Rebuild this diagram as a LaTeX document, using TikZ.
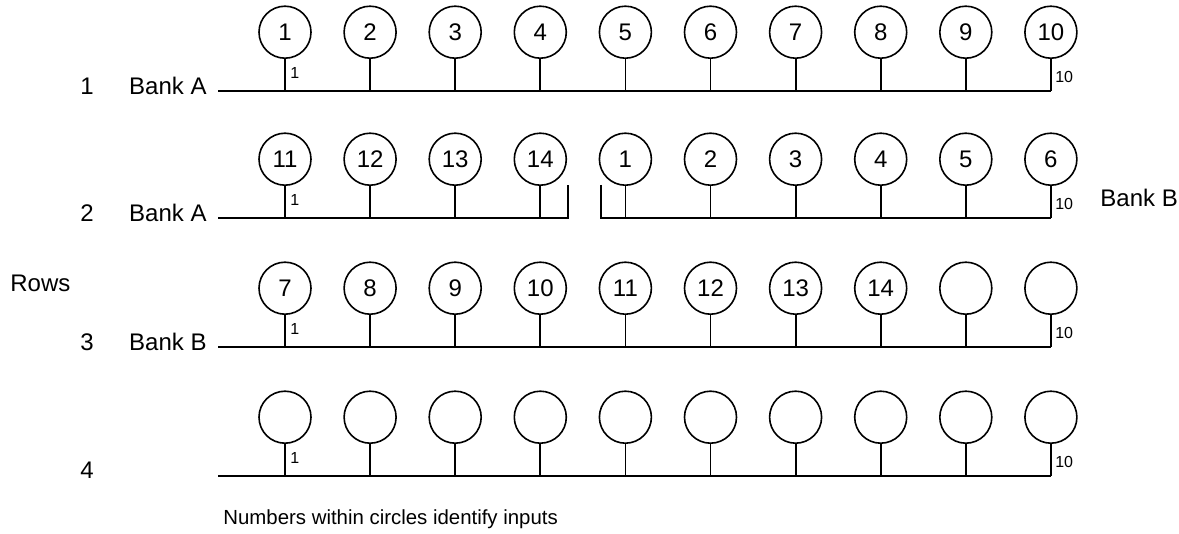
\documentclass[tikz,border=0pt]{standalone}
\usepackage{fontspec}
\setmainfont{Liberation Sans}
\usetikzlibrary{positioning,calc}

\begin{document}
\begin{tikzpicture}[
    x=0.5pt, y=-0.5pt,
    port/.style={circle, draw, line width=0.8pt, minimum size=26pt, inner sep=0pt, font=\fontsize{12}{14}\selectfont},
    wire/.style={line width=0.9pt},
    bank/.style={inner sep=0pt, font=\fontsize{12}{14}\selectfont},
    tag/.style={inner sep=0pt, font=\fontsize{8}{10}\selectfont},
    note/.style={inner sep=0pt, font=\fontsize{10.2}{12}\selectfont}
]
    \useasboundingbox (0,0) rectangle (1179,534);

    % row 1
    \foreach \t [count=\i] in {1,2,3,4,5,6,7,8,9,10} {
        \coordinate (r1a\i) at ({285+85.1*(\i-1)},91);
        \node[port, above=16pt of r1a\i] (r1p\i) {\t};
        \draw[wire] (r1p\i) -- (r1a\i);
    }
    \coordinate (r1s) at (218,91);
    \draw[wire] (r1s) -- (r1a10);
    \node[bank, anchor=base] (n1) at (87,95) {1};
    \node[bank, anchor=base east] (k1) at (207,95) {Bank A};
    \node[tag, above right=6pt and 2.5pt of r1a1] (t1a) {1};
    \node[tag, above right=4pt and 2pt of r1a10] (t1b) {10};

    % row 2
    \foreach \t [count=\i] in {11,12,13,14,1,2,3,4,5,6} {
        \coordinate (r2a\i) at ({285+85.1*(\i-1)},218);
        \node[port, above=16pt of r2a\i] (r2p\i) {\t};
        \draw[wire] (r2p\i) -- (r2a\i);
    }
    \coordinate (r2s) at (218,218);
    \coordinate (r2e) at (568,218);
    \coordinate (r2et) at (568,185);
    \coordinate (r2f) at (601,218);
    \coordinate (r2ft) at (601,185);
    \draw[wire] (r2s) -- (r2e) -- (r2et);
    \draw[wire] (r2ft) -- (r2f) -- (r2a10);
    \node[bank, anchor=base] (n2) at (87,222) {2};
    \node[bank, anchor=base east] (k2) at (207,222) {Bank A};
    \node[bank, anchor=base west] (k2b) at (1100,207) {Bank B};
    \node[tag, above right=6pt and 2.5pt of r2a1] (t2a) {1};
    \node[tag, above right=4pt and 2pt of r2a10] (t2b) {10};

    % row 3
    \foreach \t [count=\i] in {7,8,9,10,11,12,13,14,{},{}} {
        \coordinate (r3a\i) at ({285+85.1*(\i-1)},347);
        \node[port, above=16pt of r3a\i] (r3p\i) {\t};
        \draw[wire] (r3p\i) -- (r3a\i);
    }
    \coordinate (r3s) at (218,347);
    \draw[wire] (r3s) -- (r3a10);
    \node[bank, anchor=base] (n3) at (87,351) {3};
    \node[bank, anchor=base east] (k3) at (207,351) {Bank B};
    \node[tag, above right=6pt and 2.5pt of r3a1] (t3a) {1};
    \node[tag, above right=4pt and 2pt of r3a10] (t3b) {10};

    % row 4
    \foreach \i in {1,...,10} {
        \coordinate (r4a\i) at ({285+85.1*(\i-1)},476);
        \node[port, above=16pt of r4a\i] (r4p\i) {};
        \draw[wire] (r4p\i) -- (r4a\i);
    }
    \coordinate (r4s) at (218,476);
    \draw[wire] (r4s) -- (r4a10);
    \node[bank, anchor=base] (n4) at (87,479) {4};
    \node[tag, above right=6pt and 2.5pt of r4a1] (t4a) {1};
    \node[tag, above right=4pt and 2pt of r4a10] (t4b) {10};

    \node[bank, anchor=base west] (rows) at (10,292) {Rows};
    \node[note, anchor=base west] (cap) at (223,524) {Numbers within circles identify inputs};
\end{tikzpicture}
\end{document}
